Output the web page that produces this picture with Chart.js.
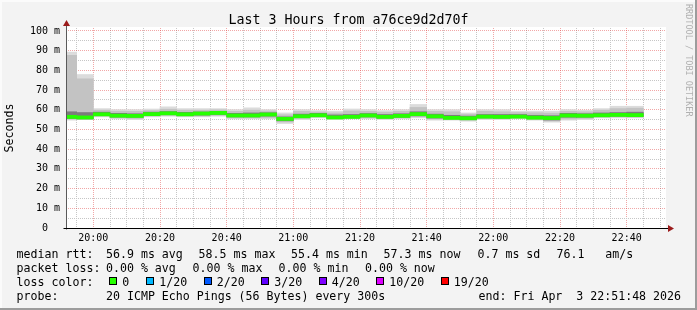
<!DOCTYPE html>
<html><head><meta charset="utf-8">
<script src="https://cdn.jsdelivr.net/npm/chart.js@4"></script>
<style>html,body{margin:0;padding:0;background:#f3f3f3;}canvas{display:block}</style>
</head><body>
<canvas id="c" width="697" height="310"></canvas>
<script>
// ---- data ----
const startTime = '19:51:48';
const endTime = '22:51:48';
const binEnds = ['19:55','20:00','20:05','20:10','20:15','20:20','20:25','20:30','20:35','20:40','20:45','20:50','20:55',
  '21:00','21:05','21:10','21:15','21:20','21:25','21:30','21:35','21:40','21:45','21:50','21:55',
  '22:00','22:05','22:10','22:15','22:20','22:25','22:30','22:35','22:40','22:45'];
const median   = [56.4,56.1,57.7,57.0,56.9,57.8,58.2,57.7,58.1,58.4,57.1,57.1,57.6,55.4,56.7,57.2,56.1,56.4,57.1,56.4,56.9,57.8,56.7,55.9,55.7,56.5,56.4,56.5,56.0,55.8,57.1,57.0,57.2,57.4,57.3];
const smokeMax = [89.3,77.9,60.6,60.1,60.1,60.4,61.5,60.6,60.6,60.6,60.1,61.0,60.1,58.4,60.1,59.6,59.3,60.4,60.1,59.6,60.1,62.7,60.1,60.1,58.4,60.1,60.1,59.3,59.3,59.3,60.1,59.8,60.6,61.8,61.8];
const smokeHi  = [87.6,75.7,59.8,59.3,59.2,59.6,60.3,59.8,59.8,60.0,59.2,59.8,59.4,57.5,59.2,58.9,58.4,59.4,59.2,58.8,59.2,61.2,59.2,59.0,57.8,59.2,59.0,58.6,58.5,58.3,59.2,59.0,59.8,60.6,60.8];
const coreHi   = [59.0,58.6,58.8,58.2,58.0,58.8,59.1,58.7,58.9,59.2,58.2,58.4,58.5,56.4,57.8,58.2,57.4,57.6,58.1,57.6,58.0,59.0,57.8,57.2,56.8,57.6,57.6,57.6,57.2,57.0,58.2,58.0,58.4,58.6,58.8];
const coreLo   = [55.6,55.4,57.0,56.3,56.2,57.2,57.5,57.2,57.3,57.6,56.4,56.4,56.8,54.4,56.0,56.6,55.6,55.9,56.4,55.8,56.2,56.9,55.8,55.3,55.0,55.9,55.8,56.0,55.4,54.8,56.2,56.2,56.6,56.8,56.6];
const smokeLo  = [55.2,55.2,56.8,55.9,55.6,56.8,57.1,56.8,56.8,57.1,55.9,55.9,55.9,53.8,55.6,56.3,55.5,55.8,55.9,55.5,55.9,56.4,55.3,55.2,54.7,55.6,55.5,55.8,55.2,54.3,55.3,55.6,56.3,56.4,56.2];
const smokeMin = [54.7,55.0,56.4,55.4,55.0,56.4,56.7,56.4,56.4,56.7,55.4,55.4,55.4,53.0,55.0,55.9,55.0,55.4,55.4,55.0,55.4,55.9,54.7,54.7,54.2,55.0,55.0,55.4,54.7,53.7,54.7,55.0,55.9,55.9,55.9];
const yTickValues = [0,5,10,15,20,25,30,35,40,45,50,55,60,65,70,75,80,85,90,95,100];
const yMax = 101.5;
const xTickLabels = ['20:00','20:20','20:40','21:00','21:20','21:40','22:00','22:20','22:40'];
const lossLabels = ['0','1/20','2/20','3/20','4/20','10/20','19/20'];
const lossColors = ['#26ff00','#00b8ff','#0059ff','#5e00ff','#7e00ff','#dd00ff','#ff0000'];
const titleText = 'Last 3 Hours from a76ce9d2d70f';
const rttRow = ['median rtt:','56.9 ms avg','58.5 ms max','55.4 ms min','57.3 ms now','0.7 ms sd','76.1   am/s'];
const lossRow = ['packet loss:','0.00 % avg','0.00 % max','0.00 % min','0.00 % now'];
const probeRow = ['probe:','20 ICMP Echo Pings (56 Bytes) every 300s'];
const endText = 'end: Fri Apr  3 22:51:48 2026';
const watermark = 'RRDTOOL / TOBI OETIKER';

// ---- helpers ----
const MONO = "'DejaVu Sans Mono', monospace";
function toMin(s){ const p=s.split(':').map(Number); return p[0]*60+p[1]+(p[2]||0)/60 - 20*60; }
const binCenters = binEnds.map(t => toMin(t) - 2.5);
function band(lo, hi){ return binCenters.map((x,i)=>({x:x, y:[lo[i], hi[i]]})); }
const medLo = median.map(v=>v-0.8), medHi = median.map(v=>v+0.8);
const RED = 'rgba(225,60,60,0.45)';
const GRAY = '#c6c6c6';

const deco = {
  id:'deco',
  beforeDraw(chart){
    const c = chart.ctx, a = chart.chartArea;
    c.save();
    c.fillStyle = '#f3f3f3'; c.fillRect(0,0,chart.width,chart.height);
    c.fillStyle = '#ffffff'; c.fillRect(a.left, a.top-1, a.right-a.left, a.bottom-a.top+1);
    c.fillStyle = '#fbfbfb'; c.fillRect(0,0,chart.width,2); c.fillRect(0,0,2,chart.height);
    c.fillStyle = '#9c9c9c'; c.fillRect(0,chart.height-2,chart.width,2); c.fillRect(chart.width-2,0,2,chart.height);
    c.restore();
  },
  afterDraw(chart){
    const c = chart.ctx, a = chart.chartArea;
    const x0 = a.left + 0.5, y0 = chart.scales.y.getPixelForValue(0) + 0.5;
    c.save();
    c.lineWidth = 1;
    c.strokeStyle = '#5a5a5a';
    c.beginPath(); c.moveTo(x0, a.top-3); c.lineTo(x0, y0+1); c.stroke();
    c.strokeStyle = '#000';
    c.beginPath(); c.moveTo(x0-3, y0); c.lineTo(a.right+3, y0); c.stroke();
    c.fillStyle = '#9b1c1c';
    c.beginPath(); c.moveTo(x0, a.top-8); c.lineTo(x0-3.5, a.top-2); c.lineTo(x0+3.5, a.top-2); c.closePath(); c.fill();
    c.beginPath(); c.moveTo(a.right+8, y0); c.lineTo(a.right+2, y0-3.5); c.lineTo(a.right+2, y0+3.5); c.closePath(); c.fill();

    c.fillStyle = '#000'; c.textBaseline = 'alphabetic';
    c.font = '13.3px ' + MONO; c.textAlign = 'center';
    c.fillText(titleText, chart.width/2, 23.5);

    c.font = '11.6px ' + MONO; c.textAlign = 'left';
    const rttX = [16.6,106,198.6,291,383.6,477.5,556.5];
    rttRow.forEach((t,i)=>c.fillText(t, rttX[i], 258));
    const lossX = [16.6,106,192.6,278.6,365];
    lossRow.forEach((t,i)=>c.fillText(t, lossX[i], 272));
    c.fillText('loss color:', 16.6, 286);
    const boxX = [109,146,203.5,261,318.5,376,440.5];
    lossLabels.forEach((t,i)=>{
      const bx = Math.round(boxX[i]);
      c.fillStyle = lossColors[i]; c.fillRect(bx, 277, 8, 8);
      c.strokeStyle = '#000'; c.strokeRect(bx+0.5, 277.5, 7, 7);
      c.fillStyle = '#000'; c.fillText(t, boxX[i]+13.3, 286);
    });
    c.fillText(probeRow[0], 16.6, 300);
    c.fillText(probeRow[1], 106, 300);
    c.textAlign = 'right'; c.fillText(endText, 681, 300);

    c.translate(685.5, 4); c.rotate(Math.PI/2);
    c.font = '8.5px ' + MONO; c.fillStyle = '#b0b0b0'; c.textAlign = 'left';
    c.fillText(watermark, 0, 0);
    c.restore();
  }
};

const barCommon = {type:'bar', grouped:false, borderWidth:0, barPercentage:1, categoryPercentage:1};
new Chart(document.getElementById('c'), {
  data: { datasets: [
    Object.assign({label:'median', data: band(medLo, medHi), backgroundColor:'#26ff00', order:0}, barCommon),
    Object.assign({label:'core', data: band(coreLo, coreHi), backgroundColor:'#7c7c7c', order:1}, barCommon),
    Object.assign({label:'mid', data: band(smokeLo, smokeHi), backgroundColor:'#c3c3c3', order:2}, barCommon),
    Object.assign({label:'outer', data: band(smokeMin, smokeMax), backgroundColor:'#dcdcdc', order:3}, barCommon)
  ]},
  options: {
    responsive:false, animation:false, devicePixelRatio:1, events:[],
    layout:{padding:{left:0, top:28, right:31, bottom:0}},
    plugins:{legend:{display:false}, tooltip:{enabled:false}, title:{display:false}},
    scales:{
      x:{
        type:'linear', offset:false, min:toMin(startTime), max:toMin(endTime), z:1,
        afterFit(s){ s.height = 82; },
        afterBuildTicks(s){ const t=[]; for(let m=-5; m<=170; m+=5) t.push({value:m}); s.ticks=t; },
        grid:{offset:false, drawTicks:false, lineWidth:1, color:(ctx)=> (ctx.tick && ctx.tick.value%20===0) ? RED : GRAY},
        border:{display:false, dash:[1,1]},
        ticks:{autoSkip:false, maxRotation:0, padding:4, color:'#000', font:{family:MONO, size:10},
          callback:(v)=> v%20===0 ? xTickLabels[v/20] : ''}
      },
      y:{
        type:'linear', min:0, max:yMax, position:'left', z:1,
        afterFit(s){ s.width = 66; },
        afterBuildTicks(s){ s.ticks = yTickValues.map(v=>({value:v})); },
        grid:{drawTicks:false, lineWidth:1, color:(ctx)=> (ctx.tick && ctx.tick.value%10===0) ? RED : GRAY},
        border:{display:false, dash:[1,1]},
        ticks:{autoSkip:false, padding:6, color:'#000', font:{family:MONO, size:10},
          callback:(v)=> v%10===0 ? (v===0 ? '0  ' : v+' m') : ''},
        title:{display:true, text:'Seconds', color:'#000', font:{family:MONO, size:11.6}, padding:{top:3, bottom:0}}
      }
    }
  },
  plugins:[deco]
});
</script>
</body></html>
